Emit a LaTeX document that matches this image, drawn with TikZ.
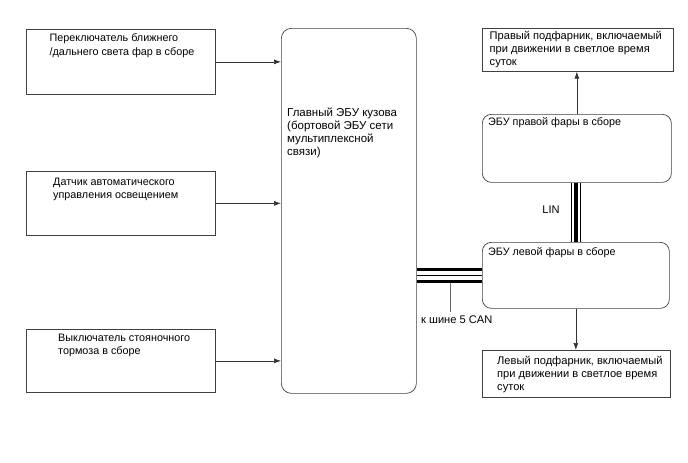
\documentclass[tikz,border=0pt]{standalone}
\usepackage{fontspec}
\setmainfont{Liberation Sans}
\usetikzlibrary{arrows.meta}
\newcommand{\fstrut}{\rule{0pt}{11pt}}
\tikzset{
  box/.style={draw=black!75, line width=0.7pt, inner sep=0pt, anchor=north west},
  rbox/.style={box, rounded corners=9pt},
  txt/.style={anchor=north west, inner sep=0pt, align=left, font=\fontsize{10.8}{13}\selectfont},
  bigtxt/.style={txt, font=\fontsize{11.5}{13}\selectfont},
  subtxt/.style={txt, font=\fontsize{11.1}{13}\selectfont},
  arr/.style={draw=black!80, line width=0.7pt, -{Latex[length=7pt,width=5pt]}},
  thickbus/.style={line width=3.2pt, black},
  thinbus/.style={line width=1pt, black},
}
\begin{document}
\begin{tikzpicture}[x=1pt,y=-1pt]
\useasboundingbox (0,0) rectangle (688,463);
\fill[white] (0,0) rectangle (688,463);
% left boxes
\node[box, minimum width=189pt, minimum height=65pt] (b1) at (26,29) {};
\node[txt, font=\fontsize{10.8}{14}\selectfont] (t1) at (49.5,30) {\fstrut Переключатель ближнего\\/дальнего света фар в сборе};
\node[box, minimum width=189pt, minimum height=64pt] (b2) at (26,171) {};
\node[txt] (t2) at (53,174) {\fstrut Датчик автоматического\\управления освещением};
\node[box, minimum width=189pt, minimum height=63pt] (b3) at (26,329) {};
\node[txt] (t3) at (58,330) {\fstrut Выключатель стояночного\\тормоза в сборе};
% main ECU
\node[rbox, rounded corners=10pt, minimum width=135pt, minimum height=365pt] (main) at (281,28) {};
\node[bigtxt] (tm) at (287,105) {\fstrut Главный ЭБУ кузова\\(бортовой ЭБУ сети\\мультиплексной\\связи)};
% right side
\node[box, minimum width=191pt, minimum height=43pt] (rsub) at (482,28) {};
\node[subtxt] (trs) at (489.5,28.5) {\fstrut Правый подфарник, включаемый\\при движении в светлое время\\суток};
\node[rbox, minimum width=189pt, minimum height=68pt] (recu) at (482,114) {};
\node[txt] (tre) at (488,114.5) {\fstrut ЭБУ правой фары в сборе};
\node[rbox, minimum width=187pt, minimum height=66pt] (lecu) at (482,242) {};
\node[txt] (tle) at (488,244.5) {\fstrut ЭБУ левой фары в сборе};
\node[box, minimum width=188pt, minimum height=47pt] (lsub) at (482,350) {};
\node[subtxt] (tls) at (497,353) {\fstrut Левый подфарник, включаемый\\при движении в светлое время\\суток};
% arrows into main
\draw[arr] (b1.east) -- (b1.east -| main.west);
\draw[arr] (b2.east) -- (b2.east -| main.west);
\draw[arr] (b3.east) -- (b3.east -| main.west);
% arrows to sub lights
\draw[arr] (recu.north) -- (recu.north |- rsub.south);
\draw[arr] (lecu.south) -- (lecu.south |- lsub.north);
% CAN bus
\draw[thickbus] (main.east |- 0,269.5) -- (lecu.west |- 0,269.5);
\draw[thinbus] (main.east |- 0,275.5) -- (lecu.west |- 0,275.5);
\draw[thickbus] (main.east |- 0,281.5) -- (lecu.west |- 0,281.5);
\coordinate (canend) at (450,312);
\draw[black!60, line width=1pt] (canend |- 0,283) -- (canend);
\node[subtxt, anchor=west] (tcan) at (421,320) {к шине 5 CAN};
% LIN bus
\draw[thinbus] (recu.south -| 571.7,0) -- (lecu.north -| 571.7,0);
\draw[line width=4pt, black] (recu.south -| 575.7,0) -- (lecu.north -| 575.7,0);
\draw[thinbus] (recu.south -| 580.5,0) -- (lecu.north -| 580.5,0);
\node[subtxt, anchor=center] (tlin) at (551,210) {LIN};
\end{tikzpicture}
\end{document}
